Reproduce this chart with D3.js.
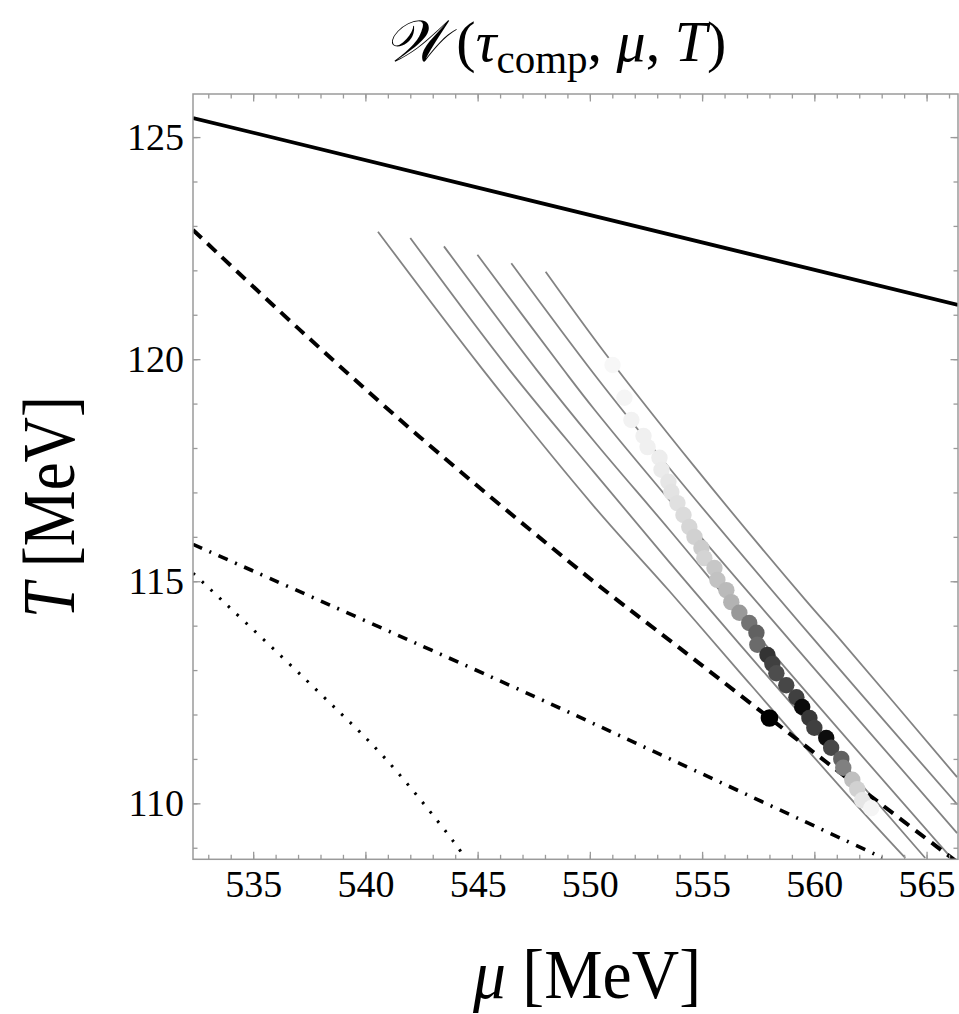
<!DOCTYPE html>
<html><head><meta charset="utf-8">
<script src="https://cdn.jsdelivr.net/npm/d3@7"></script>
<style>body{margin:0;background:#fff} svg{display:block}</style>
</head><body>
<svg id="c" width="959" height="1014"></svg>
<script>
// ---- data ----
const xDomain = [532.32, 566.4];
const yDomain = [108.74, 125.97];
const xTicks = [535, 540, 545, 550, 555, 560, 565];
const yTicks = [110, 115, 120, 125];
const xMinorTicks = d3.range(533, 567, 1);
const yMinorTicks = d3.range(109, 126, 1);

const solidLine = [[532.32,125.43],[566.4,121.22]];
const dashedLine = [[532.32,122.91],[537.08,120.66],[542.42,118.25],[549.98,115.07],[553.99,113.50],[560.53,110.93],[565.78,108.90],[566.36,108.68]];
const dashDotLine = [[532.32,115.83],[546.42,112.66],[553.99,110.90],[563.02,108.78]];
const dottedLine = [[532.33,115.18],[537.97,112.48],[540.94,110.98],[544.2,108.95],[544.5,108.70]];

const contour1 = [[540.56,122.87],[545.24,119.76],[550.21,116.67],[553.54,114.78],[556.66,112.96],[561.56,110.14],[564.05,108.77]];
const contour2 = [[542.00,122.73],[546.42,119.76],[550.21,117.44],[553.54,115.43],[556.66,113.59],[564.94,108.77]];
const contour3 = [[543.50,122.54],[547.63,119.76],[550.21,118.14],[553.54,116.16],[557.64,113.68],[566.10,108.77]];
const contour4 = [[544.99,122.35],[548.83,119.76],[550.21,118.86],[553.54,116.83],[558.89,113.68],[566.36,109.33]];
const contour5 = [[546.50,122.16],[550.21,119.65],[553.54,117.55],[560.00,113.68],[566.36,109.98]];
const contour6 = [[548.03,121.97],[550.73,120.10],[554.66,117.58],[559.60,114.58],[561.16,113.68],[566.36,110.59]];

const dotMu = [551.01,551.54,551.85,552.39,552.57,553.10,553.19,553.50,553.63,553.90,554.17,554.43,554.66,554.97,555.10,555.55,555.68,556.08,556.30,556.66,557.10,557.42,557.46,557.91,558.13,558.31,558.75,559.20,559.46,559.78,560.00,560.53,560.75,561.20,561.29,561.69,561.91,562.13,562.53];
const dotT  = [119.87,119.13,118.63,118.27,118.02,117.78,117.51,117.24,117.01,116.76,116.49,116.22,116.00,115.75,115.52,115.30,115.03,114.80,114.53,114.29,114.06,113.84,113.57,113.34,113.14,112.93,112.66,112.39,112.17,111.92,111.70,111.47,111.25,111.00,110.80,110.53,110.32,110.07,109.89];
const dotW  = [0.03,0.04,0.05,0.06,0.06,0.07,0.08,0.10,0.11,0.12,0.14,0.16,0.18,0.20,0.17,0.22,0.24,0.27,0.30,0.40,0.55,0.62,0.58,0.80,0.75,0.70,0.72,0.75,0.96,0.78,0.75,0.95,0.72,0.62,0.50,0.25,0.18,0.10,0.04];
const markerPoint = [558.0, 111.92];

// ---- layout ----
const L = 193, R = 958, T = 94, B = 859.3;
const svg = d3.select("#c");
const x = d3.scaleLinear().domain(xDomain).range([L, R]);
const y = d3.scaleLinear().domain(yDomain).range([B, T]);
const shade = d3.scaleLinear().domain([0,1]).range(["#ffffff","#000000"]);
const serif = "'Liberation Serif','Times New Roman',serif";
const frameCol = "#9a9a9a";

svg.append("defs").append("clipPath").attr("id","clip")
  .append("rect").attr("x",L).attr("y",T).attr("width",R-L).attr("height",B-T);

const plot = svg.append("g").attr("clip-path","url(#clip)");
const line = d3.line().x(d=>x(d[0])).y(d=>y(d[1])).curve(d3.curveCatmullRom.alpha(0.5));

[contour1,contour2,contour3,contour4,contour5,contour6].forEach(c=>{
  plot.append("path").attr("d",line(c)).attr("fill","none")
    .attr("stroke","#838383").attr("stroke-width",1.8);
});

plot.append("path").attr("d",line(solidLine)).attr("fill","none").attr("stroke","#000").attr("stroke-width",3.8);
plot.append("path").attr("d",line(dashedLine)).attr("fill","none").attr("stroke","#000").attr("stroke-width",4)
  .attr("stroke-dasharray","12,8");
plot.append("path").attr("d",line(dashDotLine)).attr("fill","none").attr("stroke","#000").attr("stroke-width",3.6)
  .attr("stroke-dasharray","10,8,2,8");
plot.append("path").attr("d",line(dottedLine)).attr("fill","none").attr("stroke","#000").attr("stroke-width",3)
  .attr("stroke-dasharray","2.5,9.5");

const dots = dotMu.map((m,i)=>({mu:m, t:dotT[i], w:dotW[i]}));
plot.selectAll("circle.pt").data(dots).enter().append("circle").attr("class","pt")
  .attr("cx",d=>x(d.mu)).attr("cy",d=>y(d.t)).attr("r",8.2)
  .attr("fill",d=>shade(d.w));
plot.append("circle").attr("cx",x(markerPoint[0])).attr("cy",y(markerPoint[1])).attr("r",8.8).attr("fill","#000");

// ---- frame & ticks ----
function styleAxis(g){
  g.select(".domain").remove();
  g.selectAll(".tick line").attr("stroke",frameCol).attr("stroke-width",1.3);
  g.selectAll("text").attr("font-family",serif).attr("font-size",38).attr("fill","#000");
}
svg.append("g").attr("transform",`translate(0,${B})`).call(d3.axisBottom(x).tickValues(xMinorTicks).tickSize(-4.5).tickFormat("")).call(styleAxis);
svg.append("g").attr("transform",`translate(0,${T})`).call(d3.axisTop(x).tickValues(xMinorTicks).tickSize(-4.5).tickFormat("")).call(styleAxis);
svg.append("g").attr("transform",`translate(${L},0)`).call(d3.axisLeft(y).tickValues(yMinorTicks).tickSize(-4.5).tickFormat("")).call(styleAxis);
svg.append("g").attr("transform",`translate(${R},0)`).call(d3.axisRight(y).tickValues(yMinorTicks).tickSize(-4.5).tickFormat("")).call(styleAxis);
svg.append("g").attr("transform",`translate(0,${B})`).call(d3.axisBottom(x).tickValues(xTicks).tickSize(-7.5).tickPadding(11).tickFormat(d3.format("d"))).call(styleAxis);
svg.append("g").attr("transform",`translate(0,${T})`).call(d3.axisTop(x).tickValues(xTicks).tickSize(-7.5).tickFormat("")).call(styleAxis);
svg.append("g").attr("transform",`translate(${L},0)`).call(d3.axisLeft(y).tickValues(yTicks).tickSize(-7.5).tickPadding(9).tickFormat(d3.format("d"))).call(styleAxis);
svg.append("g").attr("transform",`translate(${R},0)`).call(d3.axisRight(y).tickValues(yTicks).tickSize(-7.5).tickFormat("")).call(styleAxis);

svg.append("rect").attr("x",L).attr("y",T).attr("width",R-L).attr("height",B-T)
  .attr("fill","none").attr("stroke",frameCol).attr("stroke-width",1.5);

// ---- titles ----
const title = svg.append("text").attr("x",555).attr("y",61).attr("text-anchor","middle")
  .attr("font-family",serif).attr("font-size",58).attr("fill","#000");
title.append("tspan").attr("font-style","italic").text("𝒲");
title.append("tspan").text("\u2009(");
title.append("tspan").attr("font-style","italic").text("τ");
title.append("tspan").attr("font-size",41).attr("dy",12).text("comp");
title.append("tspan").attr("dy",-12).text(", ");
title.append("tspan").attr("font-style","italic").text("μ");
title.append("tspan").text(", ");
title.append("tspan").attr("font-style","italic").text("T");
title.append("tspan").text(")");

const yl = svg.append("text").attr("transform","translate(74,507) rotate(-90) scale(0.85,1)")
  .attr("text-anchor","middle").attr("font-family",serif).attr("font-size",74).attr("fill","#000");
yl.append("tspan").attr("font-style","italic").text("T");
yl.append("tspan").text(" [MeV]");

const xl = svg.append("text").attr("x",587).attr("y",998)
  .attr("text-anchor","middle").attr("font-family",serif).attr("font-size",70)
  .attr("textLength",228).attr("lengthAdjust","spacingAndGlyphs").attr("fill","#000");
xl.append("tspan").attr("font-style","italic").text("μ");
xl.append("tspan").text(" [MeV]");
</script>
</body></html>
